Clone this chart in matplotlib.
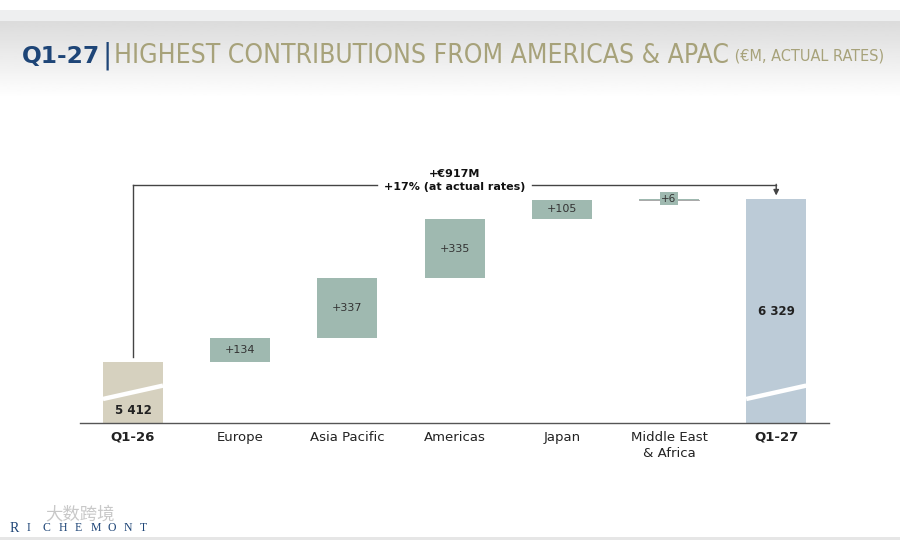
import numpy as np
import matplotlib
matplotlib.use("Agg")
import matplotlib.pyplot as plt
import matplotlib.transforms as mtransforms

# -----------------------
# data
# -----------------------
CATEGORIES = ["Q1-26", "Europe", "Asia Pacific", "Americas", "Japan", "Middle East\n& Africa", "Q1-27"]
START_VALUE = 5412
DELTAS = [134, 337, 335, 105, 6]
END_VALUE = 6329
DELTA_LABELS = ["+134", "+337", "+335", "+105", "+6"]
START_LABEL = "5 412"
END_LABEL = "6 329"
TOTAL_LINE1 = "+€917M"
TOTAL_LINE2 = "+17% (at actual rates)"

# -----------------------
# style
# -----------------------
C_START = "#d6d1bf"
C_DELTA = "#9fb9b0"
C_END = "#bccbd7"
C_BLUE = "#1e4577"
C_OLIVE = "#a7a27a"
C_TEXT = "#333333"

plt.rcParams["font.family"] = ["DejaVu Sans"]

fig = plt.figure(figsize=(9, 5.4), dpi=100)

# header band (gradient)
bg = fig.add_axes([0, 0, 1, 1], zorder=-5)
bg.set_xlim(0, 900)
bg.set_ylim(540, 0)
bg.axis("off")
bg.fill_between([0, 900], 10, 21, color="#eeeff0", lw=0)
grad = np.linspace(0.86, 1.0, 80).reshape(-1, 1)
bg.imshow(grad, cmap="gray", vmin=0, vmax=1, extent=[0, 900, 98, 21], aspect="auto")
bg.fill_between([0, 900], 537, 540, color="#e6e6e6", lw=0)

# title pieces placed one after another, shrunk to fit between x=22 and x=893
renderer = fig.canvas.get_renderer()
pieces = [
    ("Q1-27", C_BLUE, "bold", 16.8, "normal"),
    ("|", C_BLUE, "normal", 20, "normal"),
    ("HIGHEST CONTRIBUTIONS FROM AMERICAS & APAC", C_OLIVE, "normal", 19, "condensed"),
    (" (€M, ACTUAL RATES)", C_OLIVE, "normal", 11.6, "condensed"),
]


def place_title(scale):
    x = 22
    objs = []
    for txt, col, wt, fs, st in pieces:
        t = bg.text(x, 56, txt, color=col, fontsize=fs * scale, fontweight=wt,
                    fontstretch=st, va="center", ha="left")
        x += t.get_window_extent(renderer).width + 2
        objs.append(t)
    return x, objs


end_x, objs = place_title(1.0)
if end_x > 894:
    for t in objs:
        t.remove()
    place_title((894 - 22) / (end_x - 22))

# logo and watermark
bg.text(45, 514, "大数跨境", color="#c8c8c8", fontsize=12.5,
        family=["Noto Sans CJK SC", "DejaVu Sans"], va="center", ha="left")
for k, ch in enumerate("RICHEMONT"):
    bg.text(10 + k * 16.2, 528, ch, color=C_BLUE, fontsize=10 if k == 0 else 8.5,
            family="Liberation Serif", va="center", ha="left")

# -----------------------
# waterfall
# -----------------------
ax = fig.add_axes([80 / 900, (540 - 423) / 540, 760 / 900, 273 / 540])
ax.set_xlim(-0.494, 6.595)
ax.set_ylim(5069, 6605)
ax.axis("off")

n = len(CATEGORIES)
xs = np.arange(n)
width = 0.56

ax.bar(xs[0], START_VALUE, width=width, color=C_START, zorder=2)
ax.bar(xs[-1], END_VALUE, width=width, color=C_END, zorder=2)

bottoms = START_VALUE + np.concatenate([[0], np.cumsum(DELTAS)[:-1]])
for i, (b, d, lab) in enumerate(zip(bottoms, DELTAS, DELTA_LABELS)):
    xi = xs[i + 1]
    ax.bar(xi, d, bottom=b, width=width, color=C_DELTA, zorder=2)
    if d < 30:
        ax.plot([xi - 0.28, xi + 0.28], [b + d / 2] * 2, color="#9a9a9a", lw=0.6, zorder=1)
        ax.text(xi, b + d / 2 + 4, lab, ha="center", va="center", fontsize=7.5, color=C_TEXT,
                bbox=dict(boxstyle="square,pad=0.15", fc=C_DELTA, ec="none"), zorder=3)
    else:
        ax.text(xi, b + d / 2, lab, ha="center", va="center", fontsize=8, color=C_TEXT, zorder=3)

# axis break stripes on the total bars
trans = mtransforms.blended_transform_factory(ax.transData, ax.transAxes)
for xi in (xs[0], xs[-1]):
    ax.plot([xi - width / 2, xi + width / 2], [0.088, 0.137], color="white", lw=3.2,
            transform=trans, zorder=3, solid_capstyle="butt")

ax.text(xs[0], 0.047, START_LABEL, transform=trans, ha="center", va="center",
        fontsize=8.5, fontweight="bold", color="#222222", zorder=4)
ax.text(xs[-1], (END_VALUE + 5069) / 2, END_LABEL, ha="center", va="center",
        fontsize=8.5, fontweight="bold", color="#222222", zorder=4)

# baseline
ax.plot([-0.494, 6.49], [5069, 5069], color="#555555", lw=1.0, clip_on=False, zorder=4)

# category labels
for xi, cat in zip(xs, CATEGORIES):
    bold = cat.startswith("Q1")
    ax.text(xi, 5069 - 45, cat, ha="center", va="top", fontsize=9.5,
            fontweight="bold" if bold else "normal", color="#222222", linespacing=1.3)

# bracket with total change
line_y = END_VALUE + 80
gap = 0.72
mid = 3.0
lc = "#444444"
ax.plot([xs[0], xs[0]], [START_VALUE + 30, line_y], color=lc, lw=1.0)
ax.plot([xs[0], mid - gap], [line_y, line_y], color=lc, lw=1.0)
ax.plot([mid + gap, xs[-1]], [line_y, line_y], color=lc, lw=1.0)
ax.annotate("", xy=(xs[-1], END_VALUE + 20), xytext=(xs[-1], line_y + 3),
            arrowprops=dict(arrowstyle="-|>", color=lc, lw=1.0, mutation_scale=8,
                            shrinkA=0, shrinkB=0))
ax.text(mid, line_y + 60, TOTAL_LINE1, ha="center", va="center", fontsize=8,
        fontweight="bold", color="#111111")
ax.text(mid, line_y - 12, TOTAL_LINE2, ha="center", va="center", fontsize=8,
        fontweight="bold", color="#111111")

fig.savefig("out.png", dpi=100)
